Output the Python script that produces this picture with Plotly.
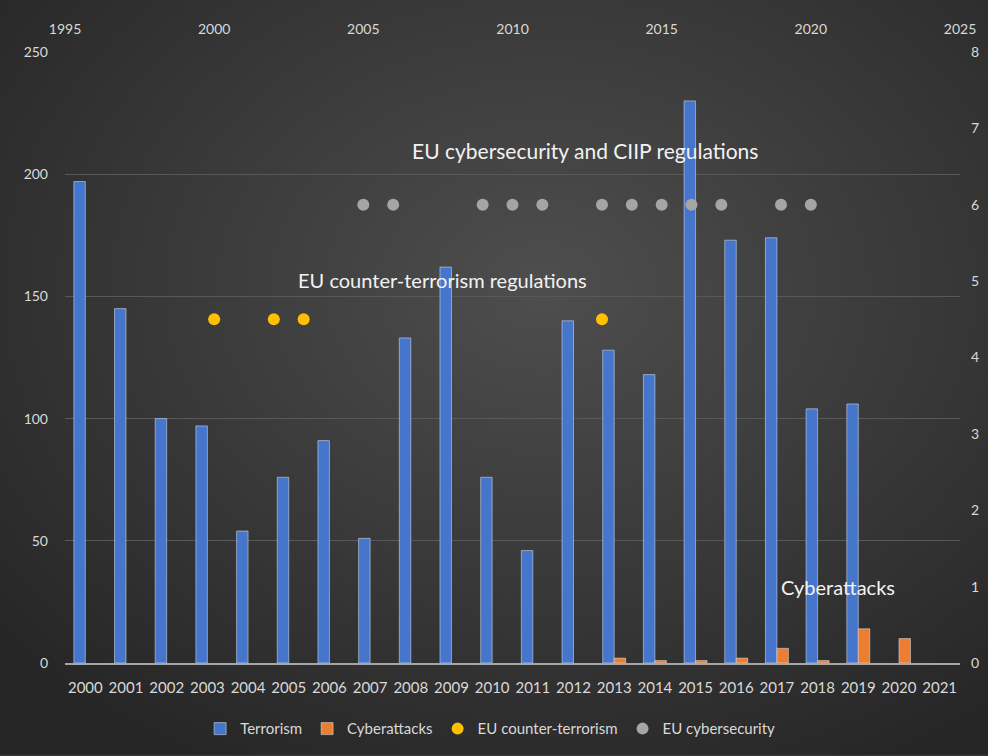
import base64
import plotly.graph_objects as go

years = [str(y) for y in range(2000, 2022)]
terrorism = [197, 145, 100, 97, 54, 76, 91, 51, 133, 162, 76, 46, 140, 128, 118, 230, 173, 174, 104, 106, None, None]
cyberattacks = [None] * 13 + [2, 1, 1, 2, 6, 1, 14, 10, None]
ct_years = [2000, 2002, 2003, 2013]
ct_level = [4.5, 4.5, 4.5, 4.5]
cs_years = [2005, 2006, 2009, 2010, 2011, 2013, 2014, 2015, 2016, 2017, 2019, 2020]
cs_level = [6] * 12

FONT = "Lato"
TXT = "#d9d9d9"

W, H = 988, 756
ML, MR, MT, MB = 65, 28, 52, 92
PW, PH = W - ML - MR, H - MT - MB

svg = f'''<svg xmlns="http://www.w3.org/2000/svg" width="{W}" height="{H}">
<defs><radialGradient id="g" cx="0.55" cy="0.38" r="0.72">
<stop offset="0" stop-color="#4e4e4e"/><stop offset="1" stop-color="#262626"/>
</radialGradient></defs>
<rect width="{W}" height="{H}" fill="url(#g)"/></svg>'''
bg_uri = "data:image/svg+xml;base64," + base64.b64encode(svg.encode()).decode()

fig = go.Figure()
fig.add_bar(x=years, y=terrorism, name="Terrorism", marker_color="#4675CC")
fig.add_bar(x=years, y=cyberattacks, name="Cyberattacks", marker_color="#ED7D31")
fig.add_scatter(x=ct_years, y=ct_level, mode="markers", name="EU counter-terrorism",
                marker=dict(color="#FFC000", size=12), xaxis="x2", yaxis="y2")
fig.add_scatter(x=cs_years, y=cs_level, mode="markers", name="EU cybersecurity",
                marker=dict(color="#A5A5A5", size=12), xaxis="x2", yaxis="y2")

fig.update_layout(
    width=W, height=H,
    margin=dict(l=ML, r=MR, t=MT, b=MB),
    paper_bgcolor="#383838", plot_bgcolor="rgba(0,0,0,0)",
    images=[dict(source=bg_uri, xref="paper", yref="paper",
                 x=-ML / PW, y=1 + MT / PH, sizex=W / PW, sizey=H / PH,
                 xanchor="left", yanchor="top", sizing="stretch", layer="below")],
    font=dict(family=FONT, color=TXT, size=14),
    barmode="group", bargap=0.435, bargroupgap=0,
    showlegend=True,
    legend=dict(orientation="h", x=0.475, xanchor="center", y=-0.106, yanchor="middle",
                font=dict(size=15, color=TXT), bgcolor="rgba(0,0,0,0)", itemwidth=30),
    xaxis=dict(type="category", showgrid=False, showline=True, linecolor="#a6a6a6", linewidth=2,
               tickfont=dict(size=15, color=TXT), ticklabelstandoff=10, automargin=False,
               categoryorder="array", categoryarray=years),
    xaxis2=dict(overlaying="x", side="top", range=[1995, 2025], dtick=5, tick0=1995,
                showgrid=False, showline=False, zeroline=False, anchor="y",
                tickfont=dict(size=14, color=TXT), ticklabelstandoff=14, automargin=False),
    yaxis=dict(range=[0, 250], dtick=50, gridcolor="#585858", gridwidth=1, zeroline=False,
               showline=False, tickfont=dict(size=14, color=TXT), ticklabelstandoff=16,
               automargin=False),
    yaxis2=dict(overlaying="y", side="right", range=[0, 8], dtick=1, showgrid=False,
                zeroline=False, showline=False, tickfont=dict(size=14, color=TXT),
                ticklabelstandoff=10, automargin=False),
    annotations=[
        dict(text="EU cybersecurity and CIIP regulations", xref="paper", yref="paper",
             x=0.581, y=0.838, xanchor="center", yanchor="middle", showarrow=False,
             font=dict(size=21, color="#f2f2f2")),
        dict(text="EU counter-terrorism regulations", xref="paper", yref="paper",
             x=0.422, y=0.627, xanchor="center", yanchor="middle", showarrow=False,
             font=dict(size=20, color="#f2f2f2")),
        dict(text="Cyberattacks", xref="paper", yref="paper",
             x=0.864, y=0.124, xanchor="center", yanchor="middle", showarrow=False,
             font=dict(size=20, color="#f2f2f2")),
    ],
)

fig.write_html("out.html")
